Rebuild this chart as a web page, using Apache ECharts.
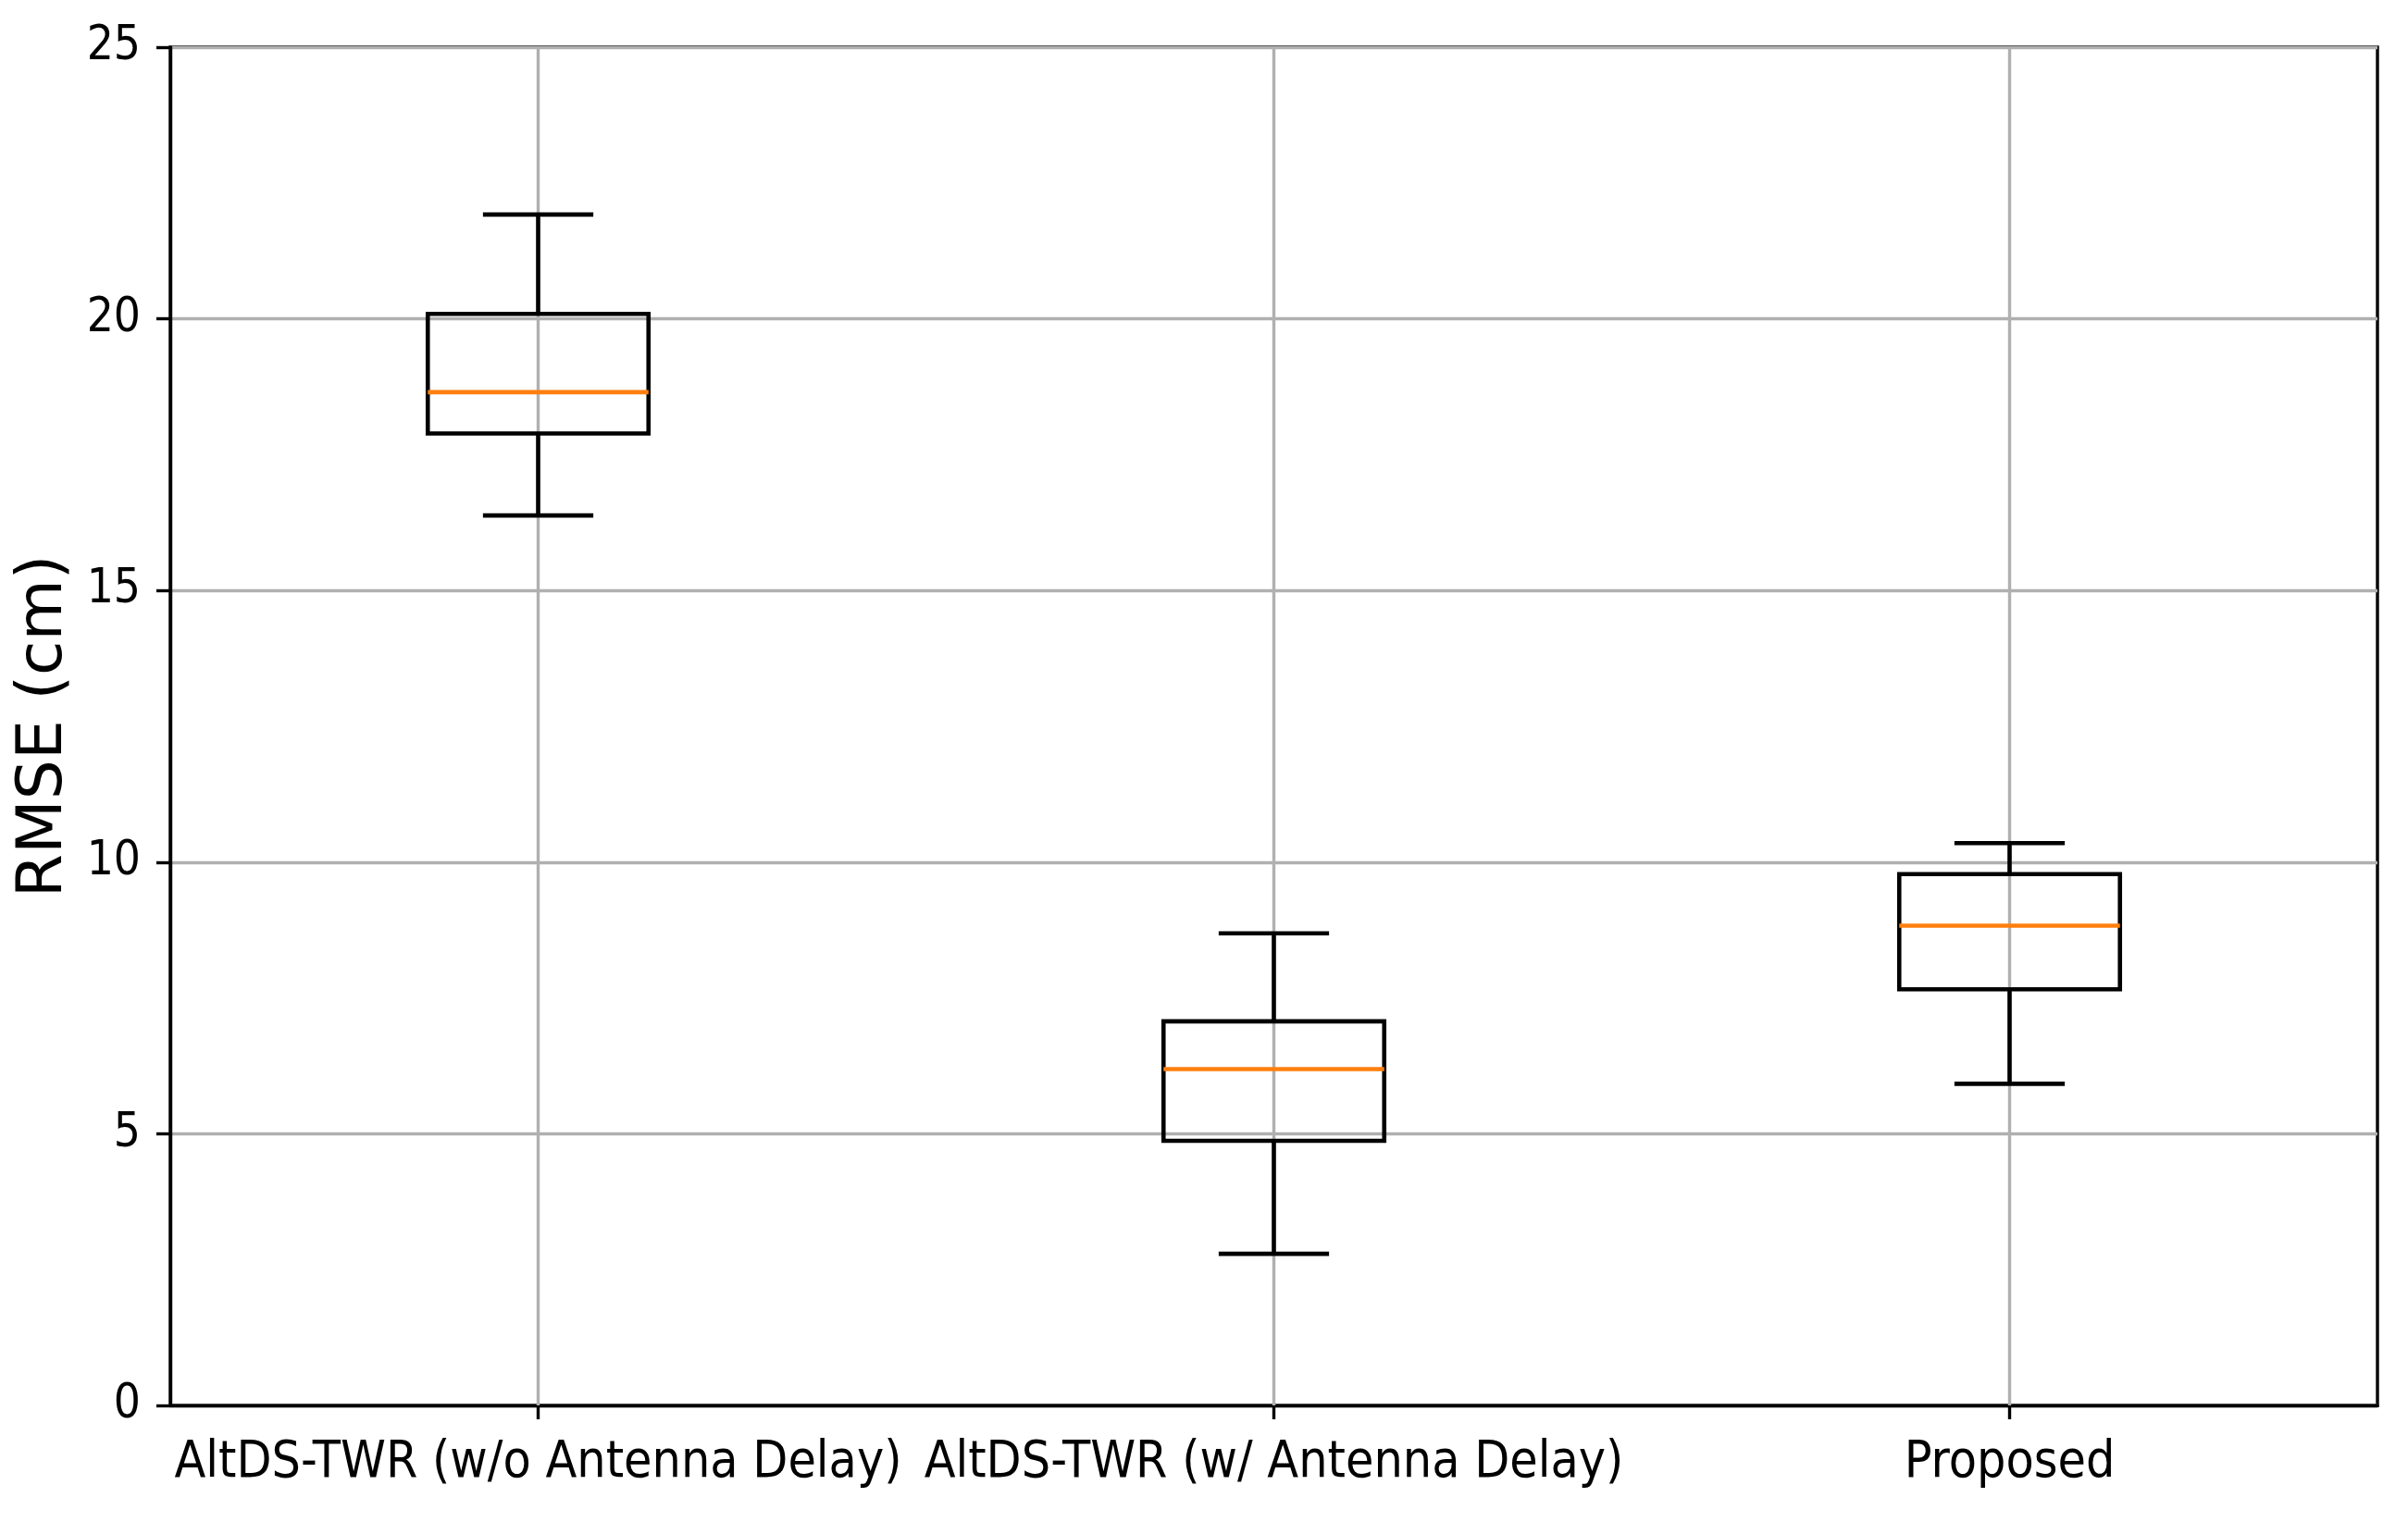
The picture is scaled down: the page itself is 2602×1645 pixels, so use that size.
<!DOCTYPE html>
<html>
<head>
<meta charset="utf-8">
<script src="https://cdn.jsdelivr.net/npm/echarts@6/dist/echarts.min.js"></script>
<style>
html,body{margin:0;padding:0;background:#fff;}
#chart{width:2602px;height:1645px;}
</style>
</head>
<body>
<div id="chart"></div>
<script>
var categories = ['AltDS-TWR (w/o Antenna Delay)', 'AltDS-TWR (w/ Antenna Delay)', 'Proposed'];
var whiskerLow  = [16.38, 2.79, 5.92];
var q1Values    = [17.89, 4.87, 7.66];
var medians     = [18.65, 6.19, 8.83];
var q3Values    = [20.09, 7.07, 9.78];
var whiskerHigh = [21.92, 8.69, 10.35];
var yTicks = [0, 5, 10, 15, 20, 25];

var boxData = categories.map(function (c, i) {
  return [i, whiskerLow[i], q1Values[i], medians[i], q3Values[i], whiskerHigh[i]];
});

var chart = echarts.init(document.getElementById('chart'), null, {renderer: 'canvas'});
var LW = 3.4;
var BLW = 4.6;
var option = {
  backgroundColor: '#fff',
  animation: false,
  grid: {
    left: 184, top: 51, right: 33, bottom: 126,
    show: true, borderColor: '#000', borderWidth: LW, backgroundColor: 'transparent'
  },
  xAxis: {
    type: 'category',
    data: categories,
    boundaryGap: true,
    axisLine: {show: true, lineStyle: {color: '#000', width: LW}},
    axisTick: {show: true, alignWithLabel: true, inside: false, length: 15, lineStyle: {color: '#000', width: LW}},
    axisLabel: {
      interval: 0, margin: 35, color: '#000',
      fontFamily: 'DejaVu Sans Condensed', fontSize: 55
    },
    splitLine: {show: false}
  },
  yAxis: {
    type: 'value',
    min: yTicks[0], max: yTicks[yTicks.length - 1], interval: 5,
    name: 'RMSE (cm)',
    nameLocation: 'middle',
    nameGap: 100,
    nameTextStyle: {color: '#000', fontFamily: 'DejaVu Sans', fontSize: 68},
    axisLine: {show: true, lineStyle: {color: '#000', width: LW}},
    axisTick: {show: true, inside: false, length: 15, lineStyle: {color: '#000', width: LW}},
    axisLabel: {margin: 32, color: '#000', fontFamily: 'DejaVu Sans Condensed', fontSize: 51},
    splitLine: {show: true, lineStyle: {color: '#b0b0b0', width: LW}}
  },
  series: [{
    type: 'custom',
    data: boxData,
    encode: {x: 0, y: [1, 2, 3, 4, 5]},
    clip: true,
    renderItem: function (params, api) {
      var x = api.value(0);
      var lo = api.coord([x, api.value(1)]);
      var q1 = api.coord([x, api.value(2)]);
      var med = api.coord([x, api.value(3)]);
      var q3 = api.coord([x, api.value(4)]);
      var hi = api.coord([x, api.value(5)]);
      var band = api.size([1, 0])[0];
      var bw = band * 0.3 / 2;
      var cw = band * 0.15 / 2;
      var cx = lo[0];
      var cs = params.coordSys;
      var black = {stroke: '#000', lineWidth: BLW, fill: null};
      return {
        type: 'group',
        children: [
          {type: 'line', shape: {x1: cx, y1: cs.y, x2: cx, y2: cs.y + cs.height},
            style: {stroke: '#b0b0b0', lineWidth: LW}},
          {type: 'line', shape: {x1: cx, y1: q3[1], x2: cx, y2: hi[1]}, style: black},
          {type: 'line', shape: {x1: cx, y1: q1[1], x2: cx, y2: lo[1]}, style: black},
          {type: 'line', shape: {x1: cx - cw, y1: hi[1], x2: cx + cw, y2: hi[1]}, style: black},
          {type: 'line', shape: {x1: cx - cw, y1: lo[1], x2: cx + cw, y2: lo[1]}, style: black},
          {type: 'rect', shape: {x: cx - bw, y: q3[1], width: 2 * bw, height: q1[1] - q3[1]},
            style: {stroke: '#000', lineWidth: BLW, fill: 'none'}},
          {type: 'line', shape: {x1: cx - bw, y1: med[1], x2: cx + bw, y2: med[1]},
            style: {stroke: '#ff7f0e', lineWidth: BLW}}
        ]
      };
    }
  }]
};
chart.setOption(option);
</script>
</body>
</html>
